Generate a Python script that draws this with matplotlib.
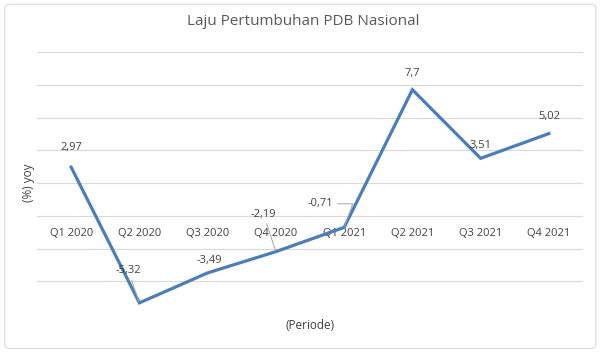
import numpy as np
import matplotlib.pyplot as plt
from matplotlib.patches import FancyBboxPatch

periode = ['Q1 2020', 'Q2 2020', 'Q3 2020', 'Q4 2020',
           'Q1 2021', 'Q2 2021', 'Q3 2021', 'Q4 2021']
pdb = [2.97, -5.32, -3.49, -2.19, -0.71, 7.7, 3.51, 5.02]
label_txt = ['2,97', '-5,32', '-3,49', '-2,19', '-0,71', '7,7', '3,51', '5,02']

# label offsets in points (dx, dy) and whether a leader line is drawn
offsets = [(0, 14), (-8, 23), (1, 9), (-9, 27), (-17, 17), (0, 11.5), (0, 9), (0, 12)]
leader = [False, True, False, True, True, False, False, False]

plt.rcParams['font.family'] = ['Open Sans', 'DejaVu Sans']
grey_txt = '#404040'
fs = 8

fig = plt.figure(figsize=(6, 3.52), dpi=100)
ax = fig.add_axes([0.0617, 0.108, 0.91, 0.744])

x = np.arange(len(periode))
ax.plot(x, pdb, color='#4a7ebb', lw=2.3, solid_joinstyle='miter', zorder=3)

ax.set_xlim(-0.5, len(periode) - 0.5)
ax.set_ylim(-6, 10)
ax.set_yticks(np.arange(-6, 11, 2))
ax.yaxis.grid(True, color='#d9d9d9', lw=0.8)
ax.set_yticklabels([])
ax.set_axisbelow(True)

# category labels sit on the zero line, like Excel
ax.spines['bottom'].set_position(('data', 0))
for s in ax.spines.values():
    s.set_visible(False)
ax.set_xticks(x)
ax.set_xticklabels(periode)
ax.tick_params(axis='x', length=0, pad=9, labelsize=fs, labelcolor=grey_txt)
ax.tick_params(axis='y', length=0)

for i, (v, t) in enumerate(zip(pdb, label_txt)):
    dx, dy = offsets[i]
    props = None
    if leader[i]:
        props = dict(arrowstyle='-', color='#a6a6a6', lw=0.7, shrinkA=1, shrinkB=1)
        if i == 4:
            props['connectionstyle'] = 'angle,angleA=0,angleB=70,rad=0'
    ax.annotate(t, (i, v), xytext=(dx, dy), textcoords='offset points',
                ha='center', va='center', fontsize=fs, color=grey_txt,
                arrowprops=props)

fig.text(0.505, 0.94, 'Laju Pertumbuhan PDB Nasional', ha='center', va='center',
         fontsize=11, color='#595959')
fig.text(0.047, 0.48, '(%) yoy', rotation=90, ha='center', va='center',
         fontsize=fs + 0.5, color=grey_txt)
fig.text(0.517, 0.075, '(Periode)', ha='center', va='center',
         fontsize=fs + 0.5, color=grey_txt)

border = FancyBboxPatch((0.008, 0.01), 0.985, 0.978, boxstyle='round,pad=0,rounding_size=0.01',
                        transform=fig.transFigure, fill=False, edgecolor='#d9d9d9', lw=0.8)
fig.patches.append(border)

fig.savefig('out.png', dpi=100)
